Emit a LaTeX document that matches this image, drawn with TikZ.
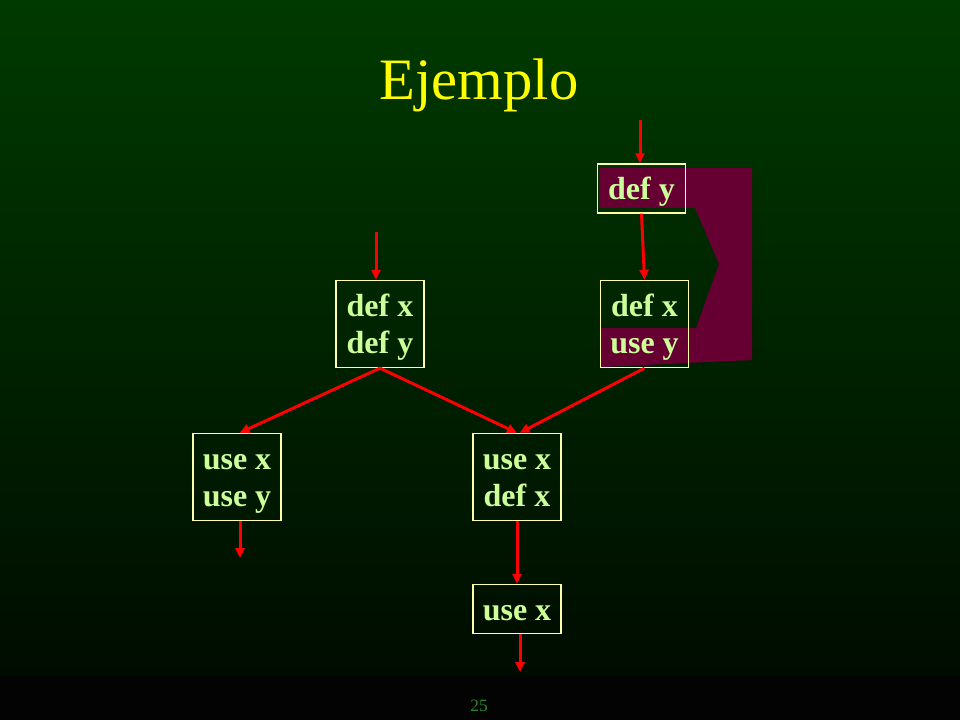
\documentclass[tikz,border=0pt]{standalone}
\usepackage{fontspec}
\setmainfont{Liberation Serif}
\usetikzlibrary{arrows.meta}
\definecolor{fondoarriba}{RGB}{0,58,0}
\definecolor{fondoabajo}{RGB}{0,12,0}
\definecolor{fondopie}{RGB}{3,3,3}
\definecolor{borde}{RGB}{255,255,170}
\definecolor{verdeclaro}{RGB}{204,255,153}
\definecolor{granate}{RGB}{102,0,51}
\definecolor{amarillo}{RGB}{255,255,0}
\definecolor{verdepie}{RGB}{40,140,40}
\begin{document}
\begin{tikzpicture}[x=0.75pt,y=-0.75pt,
  bloque/.style={draw=borde, line width=1pt, text=verdeclaro,
    font=\bfseries\fontsize{24}{27.5}\selectfont, align=center, inner sep=0pt,
    minimum width=66pt, minimum height=65.25pt,
    text height=50pt, text depth=6pt},
  bloquecorto/.style={bloque, minimum height=36.75pt,
    text height=23pt, text depth=6pt},
  flecha/.style={draw=red, line width=2.25pt, -{Triangle[length=7.5pt,width=6.75pt]}}]
\useasboundingbox (0,0) rectangle (960,720);
\shade [top color=fondoarriba, bottom color=fondoabajo] (0,0) rectangle (960,676);
\fill [fondopie] (0,676) rectangle (960,720);
% zona marcada
\fill [granate] (599,168)--(752,168)--(752,360)--(601,367)--(601,328)--(696,328)--(719,264)--(695,208)--(599,208)--cycle;
\node [text=amarillo, font=\fontsize{44}{44}\selectfont, anchor=base, inner sep=0pt] (titulo) at (479,100) {Ejemplo};
\node [bloquecorto] (dy) at (641.5,188.5) {def y};
\node [bloque] (dxuy) at (644.5,324) {def x\\use y};
\node [bloque] (dxdy) at (380,324) {def x\\def y};
\node [bloque] (uxuy) at (237,477) {use x\\use y};
\node [bloque] (uxdx) at (517,477) {use x\\def x};
\node [bloquecorto] (ux) at (517,609) {use x};
\coordinate (e1) at (640,120);
\coordinate (e2) at (376,232);
\coordinate (s1) at (240,558);
\coordinate (s2) at (520,672);
\draw [flecha] (e1) -- (e1 |- dy.north);
\draw [flecha] (dy.south) -- (dxuy.north);
\draw [flecha] (e2) -- (e2 |- dxdy.north);
\draw [flecha] (dxdy.south) -- ([xshift=2pt]uxuy.north);
\draw [flecha] (dxdy.south) -- (uxdx.north);
\draw [flecha] (dxuy.south) -- ([xshift=2pt]uxdx.north);
\draw [flecha] (s1 |- uxuy.south) -- (s1);
\draw [flecha] (uxdx.south) -- (ux.north);
\draw [flecha] (s2 |- ux.south) -- (s2);
\node [text=verdepie, font=\fontsize{13}{13}\selectfont, anchor=base, inner sep=0pt] (pagina) at (479,711) {25};
\end{tikzpicture}
\end{document}
